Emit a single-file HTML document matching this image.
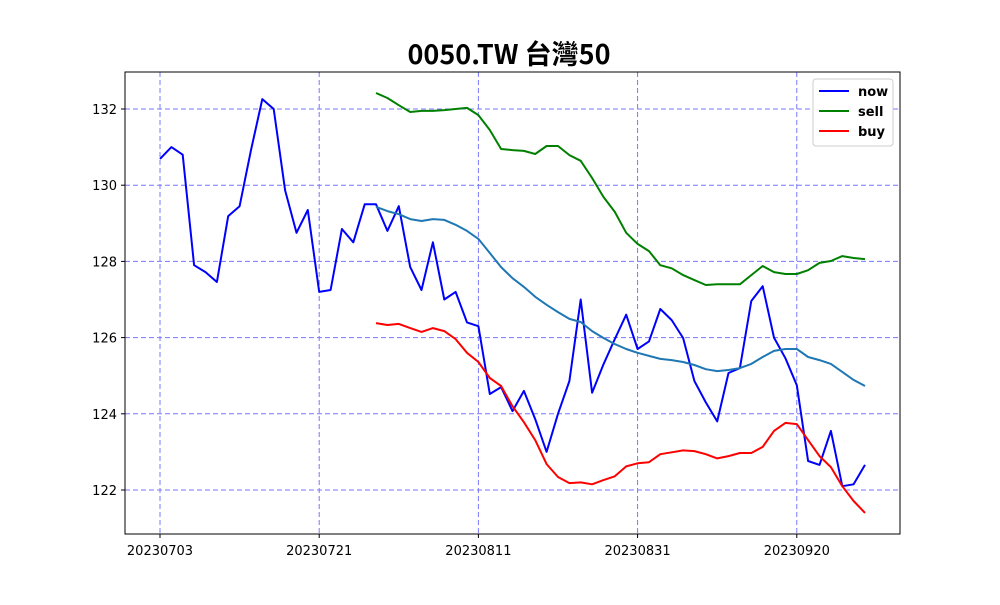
<!DOCTYPE html>
<html><head><meta charset="utf-8"><style>
body{margin:0;background:#fff;}
svg text{font-family:"Liberation Sans","Noto Sans CJK TC",sans-serif;}
</style></head><body>
<svg id="chart" width="1000" height="600" xmlns="http://www.w3.org/2000/svg">
<rect width="1000" height="600" fill="#fff"/>
<text x="509" y="64" text-anchor="middle" font-size="27" font-weight="bold" style="font-family:'Noto Sans CJK TC',sans-serif">0050.TW 台灣50</text>
<g id="grid"></g><g id="series"></g><g id="axes"></g>
<g>
<rect x="813" y="79" width="80" height="67" rx="3" fill="#fff" stroke="#ccc"/>
<line x1="819" y1="91" x2="849" y2="91" stroke="blue" stroke-width="2"/><text x="858" y="96" font-size="13" font-weight="bold" style="font-family:'DejaVu Sans',sans-serif">now</text>
<line x1="819" y1="111" x2="849" y2="111" stroke="green" stroke-width="2"/><text x="858" y="116" font-size="13" font-weight="bold" style="font-family:'DejaVu Sans',sans-serif">sell</text>
<line x1="819" y1="131" x2="849" y2="131" stroke="red" stroke-width="2"/><text x="858" y="136" font-size="13" font-weight="bold" style="font-family:'DejaVu Sans',sans-serif">buy</text>
</g>
</svg>
<script>
const xLabels=["20230703","20230721","20230811","20230831","20230920"];
const xLabelIdx=[0,14,28,42,56];
const yTicks=[122,124,126,128,130,132];
const nowVals=[130.69,131.0,130.8,127.9,127.72,127.46,129.19,129.45,130.92,132.26,132.0,129.87,128.75,129.35,127.2,127.25,128.85,128.5,129.5,129.5,128.8,129.45,127.85,127.25,128.5,127.0,127.2,126.4,126.3,124.52,124.7,124.07,124.6,123.86,123.0,124.0,124.86,127.0,124.55,125.3,125.96,126.6,125.7,125.9,126.75,126.46,125.99,124.86,124.3,123.8,125.07,125.2,126.96,127.35,126.0,125.46,124.75,122.76,122.66,123.55,122.1,122.15,122.66];
const maStart=19;
const maVals=[129.43,129.32,129.24,129.11,129.06,129.11,129.09,128.96,128.8,128.59,128.22,127.85,127.56,127.33,127.07,126.86,126.67,126.49,126.41,126.17,125.99,125.83,125.7,125.6,125.52,125.44,125.41,125.36,125.28,125.17,125.12,125.15,125.2,125.31,125.49,125.65,125.7,125.7,125.49,125.41,125.31,125.1,124.89,124.73];
const sellVals=[132.42,132.29,132.1,131.92,131.95,131.95,131.97,132.0,132.03,131.84,131.45,130.95,130.92,130.9,130.82,131.03,131.03,130.79,130.64,130.19,129.69,129.3,128.75,128.46,128.27,127.9,127.82,127.64,127.51,127.38,127.4,127.4,127.4,127.64,127.88,127.72,127.67,127.67,127.77,127.96,128.01,128.14,128.09,128.06];
const buyVals=[126.38,126.33,126.36,126.25,126.15,126.25,126.17,125.96,125.6,125.36,124.94,124.73,124.2,123.78,123.31,122.68,122.34,122.18,122.2,122.15,122.26,122.36,122.62,122.7,122.73,122.94,122.99,123.04,123.02,122.94,122.83,122.89,122.97,122.97,123.13,123.55,123.76,123.73,123.31,122.89,122.6,122.1,121.71,121.4];
const L=125,R=900,T=72,B=534;
const xs=i=>160+i*(705/62);
const ys=v=>109+(132-v)*38.1;
const NS="http://www.w3.org/2000/svg";
function mk(t,a,p){const e=document.createElementNS(NS,t);for(const k in a)e.setAttribute(k,a[k]);p.appendChild(e);return e;}
const grid=document.getElementById('grid'),axes=document.getElementById('axes'),ser=document.getElementById('series');
xLabelIdx.forEach((idx,j)=>{const x=xs(idx);
const g=mk('line',{x1:x,x2:x,y1:T,y2:B,stroke:'#7777ff','stroke-dasharray':'5,3','stroke-width':1},grid);

mk('line',{x1:x,x2:x,y1:B,y2:B+4,stroke:'#000'},axes);
const t=mk('text',{x:x,y:B+21,'text-anchor':'middle','font-size':13,style:"font-family:'DejaVu Sans',sans-serif"},axes);t.textContent=xLabels[j];
});
yTicks.forEach(v=>{const y=ys(v);
const g=mk('line',{x1:L,x2:R,y1:y,y2:y,stroke:'#7777ff','stroke-dasharray':'5,3','stroke-width':1},grid);

mk('line',{x1:L-4,x2:L,y1:y,y2:y,stroke:'#000'},axes);
const t=mk('text',{x:L-8,y:y+5,'text-anchor':'end','font-size':13,style:"font-family:'DejaVu Sans',sans-serif"},axes);t.textContent=v;
});
const fr=mk('rect',{x:L,y:T,width:R-L,height:B-T,fill:'none',stroke:'#000'},axes);

function line(vals,start,color,name){const pts=vals.map((v,i)=>xs(i+start).toFixed(1)+','+ys(v).toFixed(1)).join(' ');
const p=mk('polyline',{points:pts,fill:'none',stroke:color,'stroke-width':2,'stroke-linejoin':'round'},ser);
}
line(nowVals,0,'blue','now-line');
line(maVals,maStart,'#1f77b4','moving-average-line');
line(sellVals,maStart,'green','sell-line');
line(buyVals,maStart,'red','buy-line');
</script>
</body></html>
